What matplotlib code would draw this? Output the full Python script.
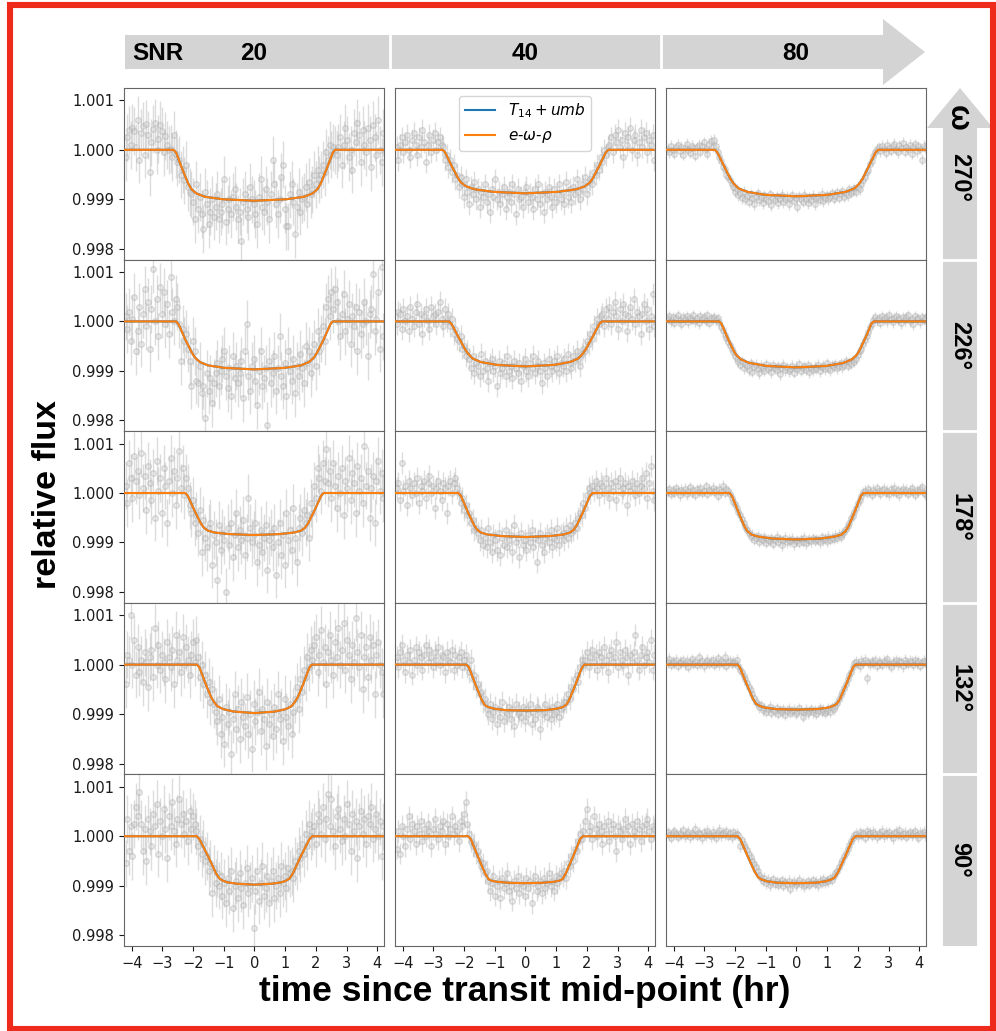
import matplotlib
matplotlib.use('Agg')
import matplotlib.pyplot as plt
from matplotlib.patches import Polygon, Rectangle
from matplotlib.lines import Line2D
import numpy as np

W, H = 996, 1031

snr_labels = ['20', '40', '80']
omega_labels = ['270°', '226°', '178°', '132°', '90°']
err = [0.00048, 0.00022, 0.00011]

# flux - 1, in units of 1e-5 (rows: omega, cols: SNR)
f20_270 = [-15, 25, 40, 10, 45, 38, 5, 60, -20, 35, 48, -10, 52, 30, -45, 15, 42, 55, 0, 22, 50, 38, -5, 28, 10, 0, 2, -15,
           30, -8, -25, -20, -50, -40, -62, -30, -75, -85,
           -90, -105, -140, -70, -120, -95, -130, -160, -85, -110, -150, -125, -100, -135, -115, -90, -140, -125, -110, -60,
           -145, -120, -100, -130, -95, -80, -115, -140, -125, -185, -105, -90, -120, -135, -75, -100, -110, -130, -150, -95,
           -60, -115, -125, -80, -105, -140, -90, -20, -70, -110, -130, -100, -55, -30, -120, -155, -155, -90, -70, -105,
           -170, -115, -85, -125, -100, -95, -75, -110, -65, -90, -80, -50, -70, -40,
           -60, -50, -30, -45, -5, -20, 10, -10, 5, 0,
           -10, 5, 25, -30, 10, 45, 20, -15, 0, -40, 35, 15, 55, 30, -25, 40, 10, -5, 45, 20, -35, 50, 25, -10, 60, 0, -25, 35]
f40_270 = [5, -20, 10, 25, -5, 15, 30, 0, -15, 20, 35, 10, -10, 25, 5, 40, 15, -25, 10, 30, -5, 20, 35, 0, 15, 25, 10,
           5, -20, -10, -35, -20, -45, -30, -60, -50, -75, -55,
           -70, -95, -60, -85, -110, -75, -90, -65, -100, -80, -115, -85, -95, -70, -105, -90, -125, -80, -95, -60,
           -100, -85, -110, -90, -75, -120, -95, -85, -105, -70, -90, -130, -80, -100, -95, -115, -85, -75, -105, -90,
           -95, -120, -80, -100, -70, -110, -90, -125, -85, -100, -75, -95, -115, -80, -105, -90, -70, -100, -85, -110,
           -65, -95, -80, -105, -75, -90, -60, -85, -100, -70, -80, -55, -90, -65,
           -60, -70, -45, -50, -30, -40, -15, -25, 0, -10, 5,
           10, 25, -5, 30, 15, 40, 5, 20, -15, 35, 10, 25, 45, 0, 20, 30, -10, 15, 40, 5, 25, 35, -5, 20, 10, 30, -20]
f80_270 = [2, -5, 8, 0, -8, 5, 10, -3, 6, -10, 4, 12, 0, -6, 8, 3, -12, 5, 10, -4, 7, 15, 2, -8, 12, 18, 6, 20,
           8, -5, -15, -22, -35, -38, -50, -55, -62, -70,
           -75, -85, -80, -92, -88, -98, -85, -100, -93, -105, -90, -97, -110, -95, -88, -102, -96, -108, -92, -99,
           -104, -90, -112, -97, -101, -94, -108, -99, -91, -106, -100, -95, -110, -98, -92, -103, -97, -115, -94, -100,
           -105, -91, -99, -108, -96, -102, -93, -110, -98, -95, -101, -89, -104, -97, -92, -100, -95, -88, -99, -93,
           -86, -97, -90, -84, -95, -88, -92, -80, -87, -83, -78, -85, -75, -80,
           -70, -62, -55, -45, -40, -28, -22, -12, -5, 2,
           5, -3, 8, 2, -6, 10, 4, -2, 7, 12, 0, -5, 9, 3, 14, -4, 6, 1, 10, -8, 5, 11, -3, 7, 2, -20, 8, 4]

f20_226 = [10, -15, 20, -40, 5, 50, -60, -20, 30, -45, 15, 65, -10, 40, -55, 25, 105, 0, 45, -30, 70, 15, 60, -5, 35,
           -25, 90, 20, 0, 45,
           30, -5, -80, -15, -40, -25, -55, -80, -130, -40, -60,
           -120, -125, -90, -145, -130, -195, -105, -140, -115, -165, -125, -105, -85, -130, -100, -75, -60, -110, -135, -95,
           -150, -70, -115, -90, -125, -105, -80, -155, -60, -5, -110, -140, -90, -75, -120, -170, -100, -60, -130, -115,
           -95, -210, -80, -125, -105, -70, -140, -95, -30, -110, -130, -85, -150, -60, -100, -120, -75, -145, -90, -110,
           -65, -95, -125, -50, -85, -60, -105, -70,
           -45, -90, -20, -60, -35, -10, -40, 30, 45, 10, 60,
           25, 65, 40, 0, -30, 15, 55, -20, 5, 35, -45, 10, -10, 30, -60, 20, -25, -5, 40, 0, -70, 15, 25, 95, -20,
           5, 60, -55, 110, -30]
f40_226 = [-5, 20, 15, -15, 25, 0, 10, -20, 30, 5, -10, 20, 35, -5, 15, -25, 10, 25, 0, -15, 30, 10, 15, -5, 20,
           40, 5, -10, 25, 0, 15,
           -10, 5, -25, -15, -35, -40, -30, -55, -50, -70, -60,
           -75, -95, -70, -105, -85, -90, -110, -65, -100, -80, -95, -120, -85, -75, -100, -90, -130, -80, -105, -95,
           -85, -110, -70, -100, -90, -115, -80, -95, -105, -85, -120, -90, -75, -100, -110, -85, -95, -70, -105, -90,
           -80, -100, -125, -85, -95, -110, -75, -90, -100, -80, -95, -70, -105, -85, -90, -75, -100, -65, -85, -95,
           -70, -80, -60, -75, -90, -65,
           -55, -60, -40, -45, -25, -35, -10, -20, 5, -5, 10,
           15, -10, 25, 5, 30, -5, 20, 40, 10, -15, 25, 0, 35, 15, -20, 10, 30, 5, 45, -5, 20, 10, -25, 15, 35,
           0, 25, -15, 10, 55, -10]
f80_226 = [5, 10, 0, 8, -3, 6, 12, 2, -5, 9, 4, 11, -2, 7, 3, 13, 0, 6, -4, 10, 5, 8, 1, 12, -3, 7, 4, 9, 2, 6,
           -2, -12, -18, -28, -33, -42, -48, -55, -62, -70,
           -75, -82, -88, -80, -95, -86, -91, -99, -84, -102, -93, -88, -97, -105, -90, -94, -100, -86, -96, -92,
           -103, -89, -95, -98, -91, -107, -94, -88, -99, -93, -101, -96, -90, -104, -92, -97, -86, -100, -95, -91,
           -98, -89, -103, -94, -99, -92, -96, -88, -101, -93, -90, -97, -85, -94, -99, -89, -92, -86, -95, -90,
           -84, -93, -88, -80, -90, -83, -86, -78, -82, -75,
           -68, -60, -55, -45, -38, -30, -22, -12, -5, 3,
           8, 2, 6, -3, 10, 4, 9, 0, 12, 5, -2, 7, 11, 3, 6, -4, 9, 2, 8, 13, 0, 5, -6, 10, 4, 7, -2, 9, 3, 6]

f20_178 = [15, -20, 60, 30, -10, 75, 25, 45, -5, 80, 10, 35, -35, 55, 20, -15, 40, -50, 65, 5, 30, -40, 50, 15, -60,
           25, 70, 0, 45, -25, 30, 85, 10, 50, -5,
           30, 10, -25, -40, -15, -60, -45, -80, -35, -120, -55,
           -90, -110, -70, -60, -145, -85, -100, -175, -65, -115, -80, -95, -200, -70, -105, -60, -130, -85, -40, -110,
           -75, -95, -55, -125, -90, -10, -70, -100, -85, -60, -140, -105, -75, -120, -90, -65, -155, -95, -80, -110,
           -70, -165, -100, -60, -125, -85, -145, -40, -95, -75, -115, -30, -90, -140, -70, -50, -80, -35,
           -60, -45, -90, -20, -40, 15, -10, 50, 30, 5, 60,
           25, 90, 20, 45, -10, 60, 15, -30, 35, 0, 50, -45, 25, 10, 70, -15, 40, 20, -40, 55, 5, 30, -20, 95, 15,
           45, -50, 10, 35, -60, 25, 65, 5, 40, -10]
f40_178 = [10, 20, -15, 60, 5, 15, -25, 25, 10, -5, 20, 0, 30, -20, 15, 5, 25, -10, 20, 35, 0, 15, -30, 10, 25,
           5, -15, 20, 10, -40, 15, 25, 0, 20, 30, 10,
           0, -20, -10, -35, -25, -45, -40, -60, -55, -75, -70,
           -80, -95, -75, -105, -90, -110, -70, -100, -120, -85, -95, -115, -80, -125, -90, -105, -75, -110, -95, -85,
           -120, -65, -100, -90, -130, -80, -105, -95, -115, -85, -100, -75, -110, -90, -140, -95, -80, -105, -120, -90,
           -85, -100, -75, -110, -90, -95, -70, -105, -85, -80, -95, -70, -90, -65, -80, -75,
           -60, -70, -50, -40, -45, -20, -30, -5, 10, 0, 15,
           5, 25, 10, -5, 20, 15, 0, 30, 10, -10, 20, 5, 25, -15, 15, 30, 0, 10, 20, -25, 15, 5, 25, 10, -5,
           20, 0, 15, 30, 10, 40, -10, 20, 55, 5, -15]
f80_178 = [3, 8, -2, 6, 0, 10, 4, -5, 7, 2, 9, -3, 5, 12, 1, 6, -4, 8, 3, 10, 0, 5, 14, -2, 7, 4, 11, 2, 6, -6,
           9, 3, 15, 1, 8, 4,
           -3, -10, -18, -22, -30, -38, -45, -52, -60, -68, -75,
           -80, -88, -84, -95, -90, -87, -99, -92, -96, -89, -101, -94, -97, -91, -103, -95, -88, -99, -93, -106,
           -96, -90, -100, -94, -98, -92, -104, -97, -95, -101, -93, -99, -90, -102, -96, -94, -98, -91, -97, -93,
           -95, -100, -89, -96, -92, -98, -88, -94, -90, -93, -86, -91, -84, -88, -82, -79,
           -72, -66, -60, -50, -46, -38, -30, -20, -14, -6, 2,
           5, 0, 8, 3, -4, 7, 2, 10, 4, -2, 6, 9, 1, 5, -3, 8, 3, 11, 0, 6, -5, 4, 9, 2, 7, -1, 5, 10, 3, -4,
           6, 2, 8, 12, 1, -3]

f20_132 = [-40, 20, 10, 100, 0, 50, -20, 35, -15, 10, -35, 25, 5, -45, 15, 30, -25, 75, 0, 40, -10, 20, 5, -30, 45,
           15, -5, 30, -40, 60, 10, 25, -15, 55, 0, 35, 10, -20, 20, 45, 5,
           50, 15, -25, 0, -40, -20, -60, -35, -75, -50, -80,
           -95, -115, -70, -140, -105, -160, -85, -120, -95, -180, -110, -60, -130, -90, -150, -75, -105, -125, -65, -140,
           -100, -170, -80, -115, -95, -55, -135, -90, -110, -165, -75, -120, -100, -145, -85, -130, -60, -110, -95, -155,
           -70, -105, -125, -80, -140, -95,
           -70, -45, -90, -30, -55, -10, -25, 15, -5, 30, 10,
           40, 55, -15, 20, 70, 5, 35, -40, 25, 60, 10, -20, 45, 15, 75, 0, 30, 85, -10, 50, 20, -30, 40, 5, 95,
           25, -5, 60, -50, 15, 35, -25, 55, 10, 40, -60, 20, 45, 0, -15, -60]
f40_132 = [15, -5, 25, 40, 10, -15, 20, 5, 30, -20, 10, 35, 0, 25, 15, -10, 20, 40, 5, 30, 15, -5, 25, 10, 35,
           0, 20, 15, -15, 25, 10, 5, 30, -10, 20, 0, 15, 25, -5, 10, 20,
           -5, -15, 10, -30, -20, -45, -40, -60, -55, -75, -70,
           -90, -100, -80, -110, -95, -85, -120, -90, -105, -75, -115, -95, -100, -85, -110, -90, -125, -80, -100, -95,
           -105, -85, -115, -90, -100, -80, -120, -95, -110, -85, -90, -130, -100, -95, -80, -105, -90, -110, -85, -100,
           -95, -80, -105, -90, -85, -75,
           -75, -60, -70, -45, -50, -30, -20, -35, -5, 10, 0,
           10, 25, -5, 15, 30, 5, 20, -10, 25, 15, 0, 35, 10, -15, 20, 30, 5, 15, 45, -5, 25, 10, 0, 30, 15,
           -20, 20, 5, 25, 60, 10, -10, 20, 35, 0, 15, 25, 5, 50, -10, 20]
f80_132 = [5, 12, 0, 7, 3, 10, -2, 6, 4, 9, 1, 8, -4, 5, 11, 2, 6, 0, 15, 3, 7, -3, 5, 10, 2, 6, 9, 0, 4, 13,
           1, 7, 3, 16, -2, 5, 8, 2, 6, 4, 10,
           -2, -10, -15, -24, -30, -38, -45, -52, -60, -68, -75,
           -80, -86, -82, -92, -88, -95, -90, -85, -97, -91, -94, -88, -99, -92, -96, -90, -101, -93, -89, -97,
           -94, -91, -99, -95, -88, -93, -105, -96, -91, -98, -94, -90, -96, -92, -99, -94, -88, -95, -91, -97,
           -93, -89, -95, -86, -90, -84,
           -78, -70, -62, -55, -48, -40, -30, -22, -14, -5, 3,
           6, 2, -3, 8, 4, 10, -28, 5, 1, 7, 3, 9, -2, 6, 4, 0, 8, 5, 11, 2, -4, 6, 3, 9, 1, 7, 5, -3, 10, 4,
           2, 8, 6, 0, 9, 3, 7, -2, 5, 8, 4]

f20_90 = [-55, 35, -30, 20, -40, 25, 60, 40, 90, 25, -30, 15, -50, 35, 10, -20, 45, 20, 65, -35, 30, 0, 55, 15, -45,
          40, 20, 70, 10, -15, 35, 75, 25, 45, 5, 30, -10, 50, 15, 40, 25,
          10, -20, -5, -35, -15, -50, -40, -70, -55, -115, -65, -95, -75,
          -100, -80, -120, -95, -135, -85, -110, -70, -145, -100, -90, -125, -75, -105, -140, -95, -65, -115, -100, -85,
          -185, -110, -70, -130, -95, -60, -120, -105, -80, -135, -90, -70, -125, -100, -85, -115, -60, -95, -80, -105,
          -65, -75,
          -70, -85, -50, -60, -30, -45, -15, -35, 5, -20, 25, 0, 10,
          20, -15, 45, 30, 5, 60, -5, 35, 85, 20, 75, 10, -20, 40, 55, 15, -10, 35, 0, 65, 25, -30, 45, 10, 30,
          -45, 20, 50, 5, 35, -15, 40, 25, 60, -5, 15, 45, 0, 30, -40, 20]
f40_90 = [-25, 10, -35, 20, 0, -20, 15, 40, -5, 25, 10, -15, 20, 5, 30, -10, 15, 0, 25, 10, -20, 15, 35, 5, -5,
          20, 10, 30, -15, 25, 0, 15, 40, 5, 20, 10, -10, 30, 20, 45, 70,
          25, 5, -10, -20, -15, -35, -30, -50, -60, -55, -75, -70, -90,
          -110, -95, -80, -120, -100, -90, -125, -85, -105, -95, -75, -110, -100, -130, -90, -105, -80, -115, -95, -100,
          -120, -85, -105, -90, -135, -95, -80, -110, -100, -90, -115, -85, -105, -95, -75, -100, -90, -110, -80, -95,
          -85, -75,
          -80, -70, -85, -55, -60, -40, -50, -25, -30, -10, 5, -5, 10,
          30, 55, 10, 20, -5, 40, 15, 0, 25, 10, -15, 20, 5, 30, -10, 15, 25, 0, -30, 20, 10, -5, 15, 35, 5,
          20, -15, 25, 10, 0, 30, 15, -10, 20, 5, 25, 35, 10, -5, 20, 15]
f80_90 = [8, 2, -3, 6, 10, 4, -1, 7, 3, 12, 0, 5, 9, -2, 6, 3, 15, 1, 7, 4, -4, 8, 2, 11, 5, 0, 9, 3, -3, 6,
          13, 2, 7, 4, 10, 1, 6, -2, 8, 3, 5,
          2, -20, -8, -15, -22, -28, -35, -42, -50, -56, -62, -70, -78,
          -85, -90, -84, -95, -88, -99, -92, -87, -96, -91, -98, -94, -89, -100, -93, -97, -90, -106, -95, -92,
          -99, -94, -88, -97, -93, -101, -96, -91, -98, -94, -89, -96, -92, -99, -90, -94, -87, -93, -89, -91,
          -85, -88,
          -80, -75, -70, -62, -55, -48, -40, -33, -25, -18, -10, -4, 2,
          5, 0, 8, 3, 6, -3, 10, 4, 7, 1, 9, 5, -2, 6, 3, 11, 0, 7, 4, 8, 2, -4, 6, 9, 3, 12, 1, 5, 7, -1,
          4, 8, 2, 6, 10, 3, -3, 7, 5, 9, 2]

flux = [[f20_270, f40_270, f80_270],
        [f20_226, f40_226, f80_226],
        [f20_178, f40_178, f80_178],
        [f20_132, f40_132, f80_132],
        [f20_90, f40_90, f80_90]]

# model curve, half side (t >= 0); flux - 1 in 1e-5
model_t = [[[0, 1.03, 1.61, 1.90, 2.06, 2.16, 2.35, 2.55, 2.63], [0, 1.05, 1.64, 1.93, 2.10, 2.20, 2.40, 2.62, 2.70], [0, 1.02, 1.60, 1.89, 2.05, 2.15, 2.35, 2.58, 2.66]],
           [[0, 0.97, 1.51, 1.78, 1.94, 2.04, 2.25, 2.47, 2.55], [0, 0.93, 1.46, 1.72, 1.87, 1.97, 2.18, 2.41, 2.49], [0, 0.98, 1.53, 1.80, 1.96, 2.05, 2.24, 2.44, 2.52]],
           [[0, 0.83, 1.29, 1.52, 1.65, 1.75, 1.95, 2.17, 2.25], [0, 0.79, 1.23, 1.45, 1.58, 1.68, 1.88, 2.10, 2.18], [0, 0.80, 1.25, 1.47, 1.60, 1.70, 1.89, 2.10, 2.18]],
           [[0, 0.66, 1.02, 1.21, 1.31, 1.41, 1.59, 1.79, 1.87], [0, 0.66, 1.03, 1.21, 1.32, 1.42, 1.62, 1.84, 1.92], [0, 0.66, 1.03, 1.21, 1.32, 1.42, 1.62, 1.84, 1.92]],
           [[0, 0.58, 0.90, 1.06, 1.15, 1.26, 1.50, 1.79, 1.88], [0, 0.60, 0.94, 1.10, 1.20, 1.31, 1.53, 1.78, 1.87], [0, 0.62, 0.97, 1.15, 1.25, 1.36, 1.58, 1.83, 1.92]]]
model_f = [[[-103, -100, -95, -88, -79, -68, -39, -6, 0], [-88, -85, -80, -74, -66, -57, -33, -5, 0], [-94, -91, -85, -78, -68, -59, -34, -5, 0]],
           [[-97, -94, -89, -82, -73, -63, -37, -6, 0], [-91, -88, -82, -75, -65, -56, -32, -5, 0], [-93, -90, -84, -77, -68, -59, -34, -5, 0]],
           [[-85, -83, -80, -76, -70, -61, -36, -6, 0], [-89, -87, -84, -80, -74, -64, -38, -6, 0], [-94, -92, -88, -84, -77, -67, -39, -6, 0]],
           [[-98, -95, -90, -84, -76, -66, -39, -6, 0], [-93, -92, -89, -86, -82, -72, -42, -6, 0], [-91, -90, -87, -83, -79, -69, -40, -6, 0]],
           [[-98, -96, -93, -89, -85, -74, -42, -6, 0], [-95, -94, -92, -90, -87, -76, -44, -6, 0], [-95, -94, -91, -87, -83, -72, -42, -6, 0]]]

fig = plt.figure(figsize=(W / 100, H / 100), dpi=100)

def fx(x):
    return x / W

def fy(y):
    return 1 - y / H

col_left = [124, 395, 666]
row_h = 171.6
ax_w = 260

for r in range(5):
    for c in range(3):
        top = 88 + r * row_h
        ax = fig.add_axes([fx(col_left[c]), fy(top + row_h), ax_w / W, row_h / H])
        f = np.array(flux[r][c]) * 1e-5 + 1
        t = np.linspace(-4.2, 4.2, len(f))
        ax.errorbar(t, f, yerr=err[c], fmt='o', color='darkgray', mfc='lightgray', mec='darkgray',
                    ms=4.0, alpha=0.4, elinewidth=1.0, capsize=0, zorder=1)
        ht = np.array(model_t[r][c])
        hf = np.array(model_f[r][c]) * 1e-5 + 1
        mt = np.concatenate([[-4.4], -ht[::-1], ht[1:], [4.4]])
        mf = np.concatenate([[1.0], hf[::-1], hf[1:], [1.0]])
        ax.plot(mt, mf, color='tab:blue', lw=1.5, zorder=2)
        ax.plot(mt, mf, color='tab:orange', lw=1.5, zorder=3)
        ax.set_xlim(-4.25, 4.22)
        ax.set_ylim(0.99778, 1.00125)
        for s in ax.spines.values():
            s.set_color('0.4')
        ax.set_xticks(range(-4, 5))
        ax.set_yticks([0.998, 0.999, 1.000, 1.001])
        ax.tick_params(labelsize=10.5, colors='0.1')
        for lab in ax.get_xticklabels() + ax.get_yticklabels():
            lab.set_family('DejaVu Sans')
        if c == 0:
            ax.set_yticklabels(['0.998', '0.999', '1.000', '1.001'], family='DejaVu Sans')
        else:
            ax.tick_params(axis='y', left=False, labelleft=False)
        if r != 4:
            ax.tick_params(axis='x', bottom=False, labelbottom=False)
        if r == 0 and c == 1:
            handles = [Line2D([], [], color='tab:blue', lw=1.5),
                       Line2D([], [], color='tab:orange', lw=1.5)]
            ax.legend(handles, [r'$T_{14} + umb$', r'$e$-$\omega$-$\rho$'],
                      loc='upper center', fontsize=11)

arrow_gray = '#d4d4d4'
bold = {'family': 'Liberation Sans', 'weight': 'bold'}

# SNR arrow on top
top_arrow = [(125, 35), (883, 35), (883, 19), (925, 52), (883, 85), (883, 69), (125, 69)]
fig.add_artist(Polygon([(fx(x), fy(y)) for x, y in top_arrow], closed=True,
                       transform=fig.transFigure, color=arrow_gray, lw=0))
for xs in [389.5, 660.5]:
    fig.add_artist(Line2D([fx(xs), fx(xs)], [fy(35), fy(69)], color='white', lw=2,
                          transform=fig.transFigure))
fig.text(fx(158), fy(54), 'SNR', ha='center', va='center', fontsize=17.5, **bold)
for c in range(3):
    fig.text(fx(col_left[c] + ax_w / 2), fy(54), snr_labels[c], ha='center', va='center',
             fontsize=17.5, **bold)

# omega arrow on the right
right_arrow = [(943, 946), (943, 128), (927, 128), (960, 88), (993, 128), (977, 128), (977, 946)]
fig.add_artist(Polygon([(fx(x), fy(y)) for x, y in right_arrow], closed=True,
                       transform=fig.transFigure, color=arrow_gray, lw=0))
for r in range(1, 5):
    ys = 88 + r * row_h
    fig.add_artist(Line2D([fx(943), fx(977)], [fy(ys), fy(ys)], color='white', lw=2,
                          transform=fig.transFigure))
fig.text(fx(958), fy(118), 'ω', ha='center', va='center', rotation=-90, fontsize=22, **bold)
for r in range(5):
    yc = 88 + r * row_h + row_h / 2
    if r == 0:
        yc += 4
    fig.text(fx(960), fy(yc), omega_labels[r], ha='center', va='center', rotation=-90,
             fontsize=17, **bold)

fig.text(fx(48), fy(495), 'relative flux', ha='center', va='center', rotation=90,
         fontsize=24.5, **bold)
fig.text(fx(525), fy(992), 'time since transit mid-point (hr)', ha='center', va='center',
         fontsize=25.5, **bold)

# red frame
fig.add_artist(Rectangle((fx(10), fy(1028.5)), (993 - 10) / W, (1028.5 - 5) / H, fill=False,
                         edgecolor='#ee2b1b', lw=4.4, transform=fig.transFigure))

fig.savefig('out.png', dpi=100)
